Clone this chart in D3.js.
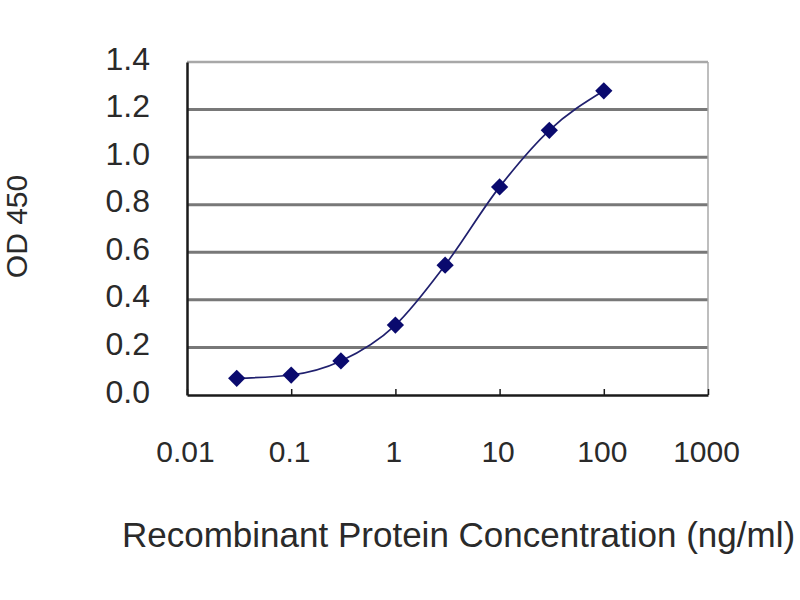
<!DOCTYPE html>
<html>
<head>
<meta charset="utf-8">
<script src="https://cdn.jsdelivr.net/npm/d3@7"></script>
<style>
  html, body { margin: 0; padding: 0; background: #fff; }
  text { font-family: "Liberation Sans", Arial, sans-serif; fill: #2a2a2a; }
</style>
</head>
<body>
<script>
/***** Data *****/
var concentrations = [0.03, 0.1, 0.3, 1, 3, 10, 30, 100];
var odValues = [0.070, 0.084, 0.143, 0.294, 0.546, 0.875, 1.113, 1.279];
var xTickValues = [0.01, 0.1, 1, 10, 100, 1000];
var xTickLabels = ["0.01", "0.1", "1", "10", "100", "1000"];
var yTickValues = [0, 0.2, 0.4, 0.6, 0.8, 1.0, 1.2, 1.4];

(function (d3) {
  "use strict";

  /***** Configuration *****/
  var margin = {
    top: 62,
    right: 92,
    bottom: 205,
    left: 187
  };
  var width = 800 - margin.left - margin.right;
  var height = 600 - margin.top - margin.bottom;

  /***** Scales *****/
  var x = d3.scaleLog().domain([0.01, 1000]).range([0, width]);
  var y = d3.scaleLinear().domain([0, 1.4]).range([height, 0]);

  var svg = d3.select("body")
    .append("svg")
    .attr("width", 800)
    .attr("height", 600);

  var g = svg.append("g")
    .attr("transform", "translate(" + margin.left + "," + margin.top + ")");

  /***** Gridlines and frame *****/
  g.selectAll("line.grid")
    .data(yTickValues.filter(function (v) { return v > 0 && v < 1.4; }))
    .enter().append("line")
    .attr("class", "grid")
    .attr("x1", 0)
    .attr("x2", width)
    .attr("y1", function (d) { return y(d); })
    .attr("y2", function (d) { return y(d); })
    .attr("stroke", "#787878")
    .attr("stroke-width", 3);

  // top and right border, lighter
  g.append("line")
    .attr("x1", 0).attr("x2", width)
    .attr("y1", y(1.4)).attr("y2", y(1.4))
    .attr("stroke", "#a8a8a8").attr("stroke-width", 2.5);
  g.append("line")
    .attr("x1", width).attr("x2", width)
    .attr("y1", y(1.4)).attr("y2", y(0))
    .attr("stroke", "#a8a8a8").attr("stroke-width", 1.5);

  /***** Axes *****/
  var xAxis = d3.axisBottom(x)
    .tickValues(xTickValues)
    .tickFormat(function (d, i) { return xTickLabels[i]; })
    .tickSizeInner(-6)
    .tickSizeOuter(0)
    .tickPadding(50);

  var xg = g.append("g")
    .attr("transform", "translate(0," + height + ")")
    .call(xAxis);
  xg.select(".domain").attr("stroke", "#1a1a1a").attr("stroke-width", 2.5);
  xg.selectAll(".tick line").attr("stroke", "#1a1a1a").attr("stroke-width", 1.5);
  xg.selectAll(".tick text")
    .attr("font-size", 30)
    .attr("font-family", "'Liberation Sans', Arial, sans-serif")
    .attr("fill", "#2a2a2a")
    .attr("dy", "0.55em")
    .attr("transform", "translate(-2,0)");

  var yAxis = d3.axisLeft(y)
    .tickValues(yTickValues)
    .tickFormat(d3.format(".1f"))
    .tickSize(0)
    .tickPadding(37);

  var yg = g.append("g").call(yAxis);
  yg.select(".domain").attr("stroke", "#1a1a1a").attr("stroke-width", 2.5);
  yg.selectAll(".tick text")
    .attr("font-size", 32)
    .attr("font-family", "'Liberation Sans', Arial, sans-serif")
    .attr("fill", "#2a2a2a")
    .attr("dy", "0.22em");

  /***** Curve and markers *****/
  var points = concentrations.map(function (c, i) {
    return { c: c, od: odValues[i] };
  });

  var line = d3.line()
    .x(function (d) { return x(d.c); })
    .y(function (d) { return y(d.od); })
    .curve(d3.curveMonotoneX);

  g.append("path")
    .datum(points)
    .attr("d", line)
    .attr("fill", "none")
    .attr("stroke", "#20206e")
    .attr("stroke-width", 1.7);

  g.selectAll("path.marker")
    .data(points)
    .enter().append("path")
    .attr("class", "marker")
    .attr("d", d3.symbol().type(d3.symbolDiamond2).size(190))
    .attr("transform", function (d) {
      return "translate(" + x(d.c) + "," + y(d.od) + ")";
    })
    .attr("fill", "#0a0a6e");

  /***** Axis titles *****/
  svg.append("text")
    .attr("transform", "translate(27," + (margin.top + height / 2 - 2) + ") rotate(-90)")
    .attr("text-anchor", "middle")
    .attr("font-size", 30)
    .text("OD 450");

  svg.append("text")
    .attr("x", 122)
    .attr("y", 547)
    .attr("font-size", 35)
    .text("Recombinant Protein Concentration (ng/ml)");

})(d3);
</script>
</body>
</html>
